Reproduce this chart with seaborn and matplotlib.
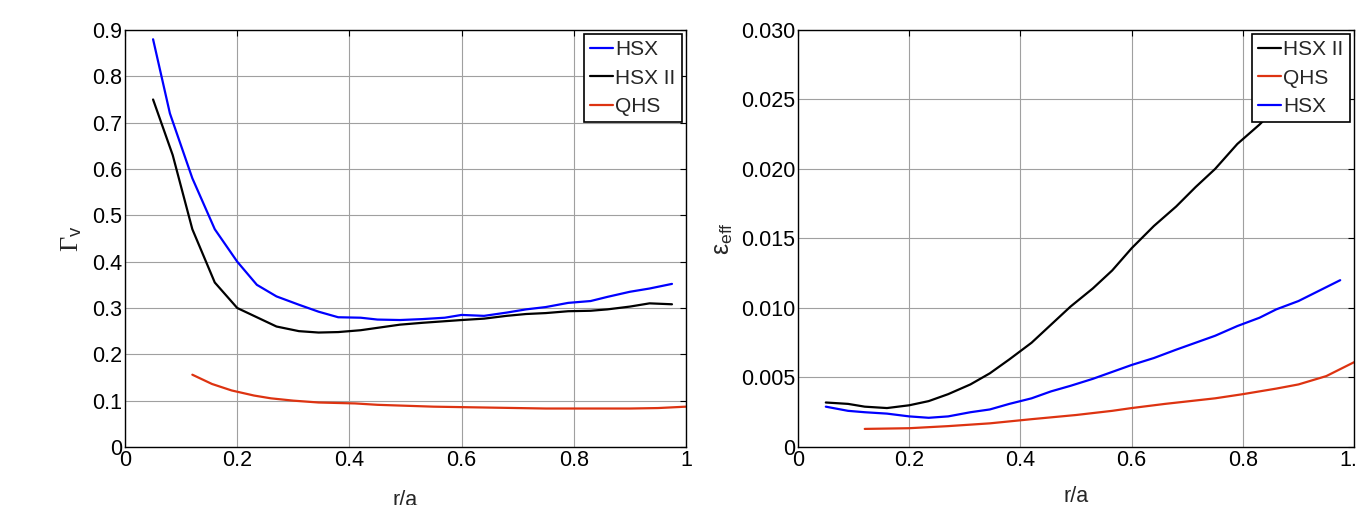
import numpy as np
import pandas as pd
import seaborn as sns
import matplotlib
matplotlib.use("Agg")
import matplotlib.pyplot as plt

# left panel: Gamma_v vs r/a
r_hsx = [0.05, 0.08, 0.12, 0.16, 0.20, 0.235, 0.27, 0.31, 0.345, 0.38, 0.42, 0.45, 0.49,
         0.53, 0.57, 0.60, 0.64, 0.68, 0.715, 0.75, 0.79, 0.83, 0.86, 0.90, 0.935, 0.975]
gam_hsx = [0.88, 0.72, 0.58, 0.47, 0.40, 0.35, 0.325, 0.307, 0.292, 0.28, 0.279, 0.275, 0.274,
           0.276, 0.279, 0.285, 0.283, 0.29, 0.297, 0.302, 0.311, 0.315, 0.324, 0.335, 0.342, 0.352]

r_hsx2 = [0.05, 0.085, 0.12, 0.16, 0.20, 0.235, 0.27, 0.31, 0.345, 0.38, 0.42, 0.455, 0.49,
          0.53, 0.565, 0.60, 0.64, 0.68, 0.715, 0.75, 0.79, 0.83, 0.86, 0.90, 0.935, 0.975]
gam_hsx2 = [0.75, 0.63, 0.47, 0.355, 0.30, 0.28, 0.26, 0.25, 0.247, 0.248, 0.252, 0.258, 0.264,
            0.268, 0.271, 0.274, 0.277, 0.283, 0.287, 0.289, 0.293, 0.294, 0.297, 0.303, 0.31, 0.308]

r_qhs = [0.12, 0.155, 0.19, 0.23, 0.26, 0.30, 0.345, 0.41, 0.45, 0.50, 0.55, 0.60, 0.65,
         0.70, 0.75, 0.80, 0.85, 0.90, 0.95, 1.0]
gam_qhs = [0.156, 0.136, 0.122, 0.111, 0.105, 0.10, 0.096, 0.094, 0.091, 0.089, 0.087, 0.086,
           0.085, 0.084, 0.083, 0.083, 0.083, 0.083, 0.084, 0.087]

# right panel: epsilon_eff vs r/a
eps_r_hsx2 = [0.05, 0.09, 0.12, 0.16, 0.20, 0.235, 0.27, 0.31, 0.345, 0.38, 0.42, 0.455, 0.49,
              0.53, 0.565, 0.60, 0.64, 0.68, 0.715, 0.75, 0.79, 0.83, 0.86, 0.90, 0.935, 0.975]
eps_hsx2 = [0.0032, 0.0031, 0.0029, 0.0028, 0.0030, 0.0033, 0.0038, 0.0045, 0.0053, 0.0063,
            0.0075, 0.0088, 0.0101, 0.0114, 0.0127, 0.0143, 0.0159, 0.0173, 0.0187, 0.0200,
            0.0218, 0.0232, 0.0244, 0.0256, 0.0268, 0.0282]

eps_r_hsx = [0.05, 0.09, 0.12, 0.16, 0.20, 0.235, 0.27, 0.31, 0.345, 0.38, 0.42, 0.455, 0.49,
             0.53, 0.565, 0.60, 0.64, 0.68, 0.715, 0.75, 0.79, 0.83, 0.86, 0.90, 0.935, 0.975]
eps_hsx = [0.0029, 0.0026, 0.0025, 0.0024, 0.0022, 0.0021, 0.0022, 0.0025, 0.0027, 0.0031,
           0.0035, 0.0040, 0.0044, 0.0049, 0.0054, 0.0059, 0.0064, 0.0070, 0.0075, 0.0080,
           0.0087, 0.0093, 0.0099, 0.0105, 0.0112, 0.0120]

eps_r_qhs = [0.12, 0.20, 0.27, 0.345, 0.42, 0.50, 0.565, 0.60, 0.66, 0.75, 0.80, 0.86, 0.90, 0.95, 1.0]
eps_qhs = [0.0013, 0.00135, 0.0015, 0.0017, 0.0020, 0.0023, 0.0026, 0.0028, 0.0031, 0.0035,
           0.0038, 0.0042, 0.0045, 0.0051, 0.0061]

colors = {"HSX": "#0000FF", "HSX II": "#000000", "QHS": "#DD3311"}

left_df = pd.concat([
    pd.DataFrame({"r": r_hsx, "val": gam_hsx, "config": "HSX"}),
    pd.DataFrame({"r": r_hsx2, "val": gam_hsx2, "config": "HSX II"}),
    pd.DataFrame({"r": r_qhs, "val": gam_qhs, "config": "QHS"}),
])
right_df = pd.concat([
    pd.DataFrame({"r": eps_r_hsx2, "val": eps_hsx2, "config": "HSX II"}),
    pd.DataFrame({"r": eps_r_qhs, "val": eps_qhs, "config": "QHS"}),
    pd.DataFrame({"r": eps_r_hsx, "val": eps_hsx, "config": "HSX"}),
])

sns.set_style("whitegrid")
plt.rcParams['font.family'] = ['Liberation Sans', 'DejaVu Sans']
plt.rcParams['mathtext.fontset'] = 'custom'
plt.rcParams['mathtext.rm'] = 'Liberation Serif'
plt.rcParams['mathtext.it'] = 'Liberation Serif:italic'
plt.rcParams['mathtext.sf'] = 'Liberation Sans'

fig = plt.figure(figsize=(13.56, 5.05), dpi=100)
ax1 = fig.add_axes([0.0922, 0.1149, 0.4137, 0.8257])
ax2 = fig.add_axes([0.5885, 0.1149, 0.4101, 0.8257])


def style_axes(ax):
    ax.grid(True, color="#a0a0a0", linewidth=0.8, linestyle="-")
    for sp in ax.spines.values():
        sp.set_visible(True)
        sp.set_color("black")
        sp.set_linewidth(1.0)
    ax.tick_params(direction="in", length=4, width=0.8, top=True, right=True,
                   labelsize=15.5, colors="black", pad=2)
    ax.set_xlim(0, 1)
    leg = ax.legend(loc="upper right", fontsize=15, handlelength=1.1, handletextpad=0.1,
                    borderpad=0.3, labelspacing=0.45, borderaxespad=0.2, fancybox=False,
                    framealpha=1.0, edgecolor="black")
    leg.get_frame().set_linewidth(1.2)


sns.lineplot(data=left_df, x="r", y="val", hue="config", palette=colors,
             hue_order=["HSX", "HSX II", "QHS"], sort=False, linewidth=1.6, ax=ax1)
ax1.set_ylim(0, 0.9)
ax1.set_yticks(np.arange(0, 0.91, 0.1))
ax1.set_yticklabels(["0", "0.1", "0.2", "0.3", "0.4", "0.5", "0.6", "0.7", "0.8", "0.9"])
ax1.set_xticks([0, 0.2, 0.4, 0.6, 0.8, 1.0])
ax1.set_xticklabels(["0", "0.2", "0.4", "0.6", "0.8", "1"])
ax1.set_xlabel("r/a", fontsize=15.5, labelpad=14)
ax1.set_ylabel(r"$\Gamma_{\mathsf{v}}$", fontsize=19, labelpad=6)
style_axes(ax1)

sns.lineplot(data=right_df, x="r", y="val", hue="config", palette=colors,
             hue_order=["HSX II", "QHS", "HSX"], sort=False, linewidth=1.6, ax=ax2)
ax2.set_ylim(0, 0.030)
ax2.set_yticks(np.arange(0, 0.0301, 0.005))
ax2.set_yticklabels(["0", "0.005", "0.010", "0.015", "0.020", "0.025", "0.030"])
ax2.set_xticks([0, 0.2, 0.4, 0.6, 0.8, 1.0])
ax2.set_xticklabels(["0", "0.2", "0.4", "0.6", "0.8", "1.0"])
ax2.set_xlabel("r/a", fontsize=15.5, labelpad=11)
ax2.set_ylabel(r"$\mathsf{\varepsilon}_{\mathsf{eff}}$", fontsize=18, labelpad=4)
style_axes(ax2)

fig.savefig("out.png", dpi=100)
